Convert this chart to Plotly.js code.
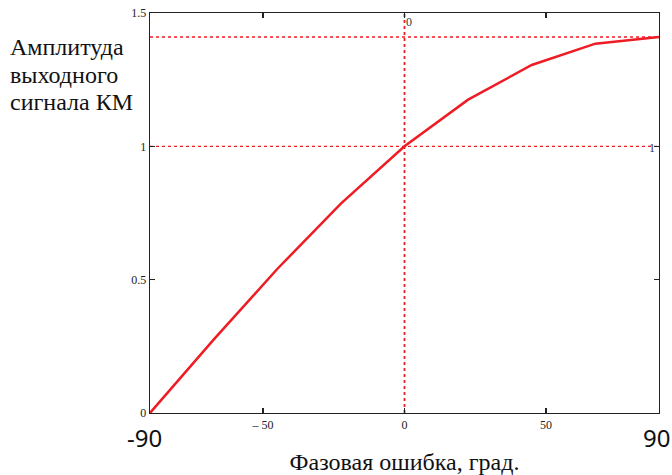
<!DOCTYPE html>
<html>
<head>
<meta charset="utf-8">
<script src="https://cdn.plot.ly/plotly-3.0.1.min.js"></script>
<style>body{margin:0;background:#fff}#chart{width:672px;height:475px}</style>
</head>
<body>
<div id="chart"></div>
<script>
// Phase error (degrees) and output amplitude
const phaseDeg = [-90, -67.5, -45, -22.5, 0, 22.5, 45, 67.5, 90];
const amplitude = [0, 0.275, 0.54, 0.785, 1.0, 1.175, 1.305, 1.385, 1.41];
// Marker lines
const markerX = [0];
const markerY = [1, 1.41];
const markerYLabels = ['1', ''];
// Axes
const xRange = [-90, 90];
const yRange = [0, 1.5];
const xTickVals = [-50, 0, 50];
const xTickText = ['– 50', '0', '50'];
const yTickVals = [0, 0.5, 1, 1.5];
const yTickText = ['0', '0.5', '1', '1.5'];
const xEndLabels = ['-90', '90'];
const yTitleLines = ['Амплитуда', 'выходного', 'сигнала КМ'];
const xTitle = 'Фазовая ошибка, град.';

const red = '#ee1c24';
const serif = 'Liberation Serif, Times New Roman, serif';
const sans = 'Noto Sans, Open Sans, sans-serif';

const traces = [];
markerY.forEach(v => traces.push({x: xRange, y: [v, v], mode: 'lines', line: {color: red, width: 1.3, dash: 'dot'}, hoverinfo: 'skip'}));
markerX.forEach(v => traces.push({x: [v, v], y: yRange, mode: 'lines', line: {color: red, width: 1.8, dash: 'dot'}, hoverinfo: 'skip'}));
traces.push({x: phaseDeg, y: amplitude, mode: 'lines', line: {color: red, width: 2.5}});

const annotations = [
  {x: xRange[0], y: 0, xref: 'x', yref: 'y', text: xEndLabels[0], showarrow: false, xshift: -6, yshift: -24, font: {family: sans, size: 24, color: '#111'}},
  {x: xRange[1], y: 0, xref: 'x', yref: 'y', text: xEndLabels[1], showarrow: false, xshift: -3, yshift: -24, font: {family: sans, size: 24, color: '#111'}},
  {x: markerX[0], y: yRange[1], xref: 'x', yref: 'y', text: '0', showarrow: false, xanchor: 'left', yanchor: 'top', xshift: -1, yshift: 0, font: {family: serif, size: 12, color: '#334'}},
  {x: xRange[1], y: markerY[0], xref: 'x', yref: 'y', text: markerYLabels[0], showarrow: false, xanchor: 'right', yshift: -2, xshift: -2, font: {family: serif, size: 12, color: '#334'}}
];
yTitleLines.forEach((t, i) => annotations.push({
  x: 0, y: 1, xref: 'paper', yref: 'paper', xanchor: 'left', yanchor: 'middle',
  text: t, showarrow: false, xshift: -142, yshift: -34 - 27.5 * i,
  font: {family: serif, size: 24, color: '#111'}
}));

const layout = {
  width: 672, height: 475,
  margin: {l: 150, r: 13, t: 13, b: 62},
  paper_bgcolor: '#fff', plot_bgcolor: '#fff',
  showlegend: false,
  xaxis: {
    range: xRange, showgrid: false, zeroline: false,
    showline: true, linecolor: '#222', linewidth: 1.3, mirror: 'ticks',
    ticks: 'inside', ticklen: 5, tickcolor: '#222', tickwidth: 1.3,
    tickvals: xTickVals, ticktext: xTickText,
    tickfont: {family: serif, size: 12, color: '#222'},
    title: {text: xTitle, font: {family: serif, size: 24, color: '#111'}, standoff: 25}
  },
  yaxis: {
    range: yRange, showgrid: false, zeroline: false,
    showline: true, linecolor: '#222', linewidth: 1.3, mirror: 'ticks',
    ticks: 'inside', ticklen: 5, tickcolor: '#222', tickwidth: 1.3,
    tickvals: yTickVals, ticktext: yTickText,
    tickfont: {family: serif, size: 12, color: '#222'}
  },
  annotations: annotations
};

Plotly.newPlot('chart', traces, layout, {staticPlot: true});
</script>
</body>
</html>
